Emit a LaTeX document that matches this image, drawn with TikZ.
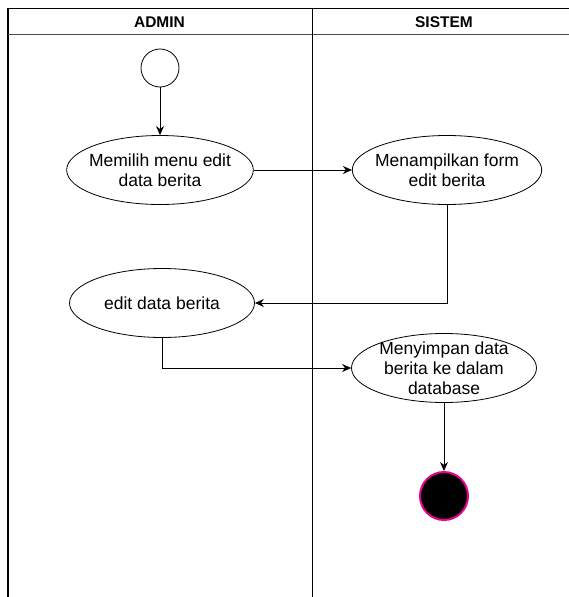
\documentclass[tikz,border=0pt]{standalone}
\usepackage{fontspec}
\setmainfont{Liberation Sans}
\usetikzlibrary{arrows.meta,shapes.geometric,positioning}

\begin{document}
\begin{tikzpicture}[x=1pt, y=-1pt, line width=0.8pt,
	act/.style={draw, ellipse, minimum width=185pt, minimum height=69pt,
		inner sep=-5pt, align=center, font=\fontsize{17.5}{20}\selectfont},
	head/.style={font=\bfseries\fontsize{15.5}{17}\selectfont},
	flow/.style={-{Stealth[length=9pt, width=8pt]}}]
	\useasboundingbox (0,0) rectangle (569,597);
	\clip (0,0) rectangle (569,597);
	% swimlanes
	\draw[line width=1.3pt] (8,610) -- (8,8.5) -- (580,8.5);
	\draw[black!70] (8,34.5) -- (580,34.5);
	\draw (312,8) -- (312,610);
	\node[head] (admin) at (159.5,22.5) {ADMIN};
	\node[head] (sistem) at (444,22.5) {SISTEM};
	% activities
	\node[draw, circle, minimum size=38pt, inner sep=0pt] (start) at (160,68) {};
	\node[act] (pilih) at (160,170) {Memilih menu edit\\data berita};
	\node[act] (form) at (447,170) {Menampilkan form\\edit berita};
	\node[act] (edit) at (162,303) {edit data berita};
	\node[act] (simpan) at (444,368) {Menyimpan data\\berita ke dalam\\database};
	\node[circle, fill=black, draw=magenta, line width=2pt, minimum size=48pt,
		inner sep=0pt] (end) at (444,496) {};
	% flows
	\draw[flow] (start) -- (pilih);
	\draw[flow] (pilih) -- (form);
	\draw[flow] (form) |- (edit);
	\draw[flow] (edit) |- (simpan);
	\draw[flow] (simpan) -- (end);
\end{tikzpicture}
\end{document}
